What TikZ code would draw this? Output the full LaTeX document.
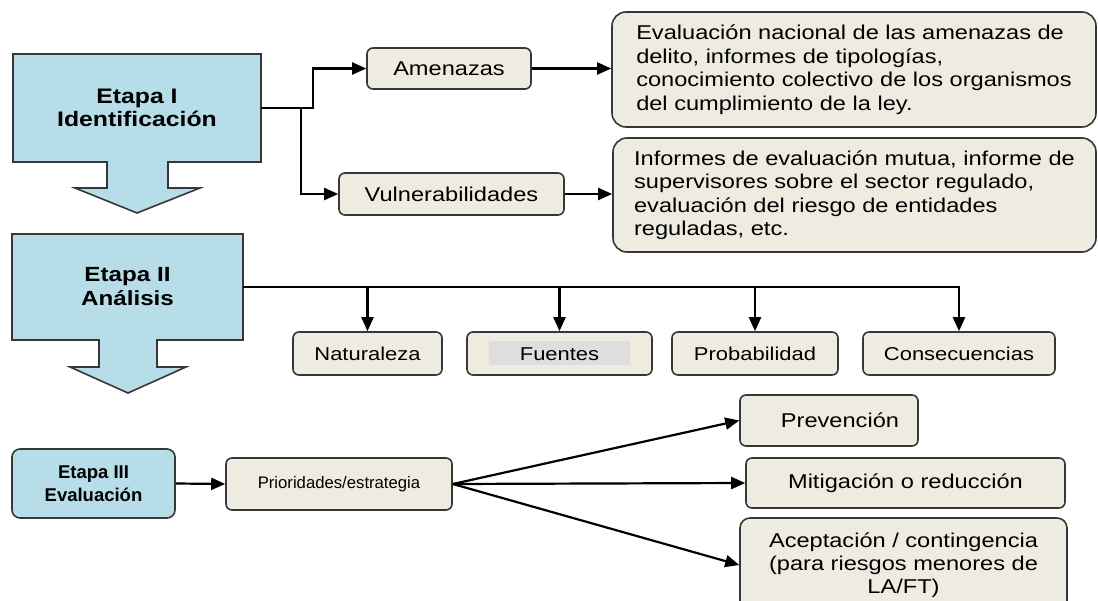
\documentclass[tikz,border=0pt]{standalone}
\usepackage{fontspec}
\setmainfont{Liberation Sans}[FakeStretch=1.18]
\newfontfamily\plainsans{Liberation Sans}
\usetikzlibrary{arrows.meta}

\definecolor{stageblue}{RGB}{183,221,232}
\definecolor{boxtan}{RGB}{238,236,225}
\definecolor{edgegray}{RGB}{55,55,55}
\definecolor{hlgray}{RGB}{222,222,222}

\tikzset{
  stage/.style={fill=stageblue, draw=edgegray, line width=1.6pt},
  stagetext/.style={align=center, inner sep=0pt, font=\fontsize{21}{23}\selectfont\bfseries},
  smallbox/.style={draw=edgegray, fill=boxtan, line width=1.6pt, rounded corners=6pt, inner sep=0pt, font=\fontsize{20}{23}\selectfont},
  bigbox/.style={smallbox, rounded corners=14pt, align=left, font=\fontsize{20}{23.5}\selectfont},
  rowbox/.style={smallbox, minimum height=43pt, font=\fontsize{18.6}{22}\selectfont},
  link/.style={line width=2.2pt},
  conn/.style={link, -{Triangle[length=14pt,width=12pt]}},
}

\begin{document}
\begin{tikzpicture}[x=1pt, y=-1pt]

\clip (0,0) rectangle (1098,601);

\draw[stage] (13,54) -- (261,54) -- (261,162) -- (168,162) -- (168,188) -- (200,188) -- (137,213)
  -- (75,188) -- (107,188) -- (107,162) -- (13,162) -- cycle;
\draw[stage] (12,234) -- (243,234) -- (243,340) -- (157,340) -- (157,367) -- (186,367) -- (128,393)
  -- (70,367) -- (99,367) -- (99,340) -- (12,340) -- cycle;

\coordinate (etapa-i-label) at (137,108);
\coordinate (etapa-ii-label) at (127.5,287);
\coordinate (etapa-iii-label) at (93.5,483.5);

\node[stagetext, minimum width=248pt, minimum height=108pt] (etapaI) at (etapa-i-label) {Etapa I\\Identificación};
\node[stagetext, minimum width=231pt, minimum height=106pt, font=\fontsize{20.5}{24}\selectfont\bfseries] (etapaII) at (etapa-ii-label) {Etapa II\\Análisis};
\node[stage, stagetext, rounded corners=8pt, minimum width=163pt, minimum height=69pt, font=\plainsans\fontsize{18.5}{23}\selectfont\bfseries] (etapaIII) at (etapa-iii-label) {Etapa III\\Evaluación};

\node[smallbox, minimum width=164pt, minimum height=41pt] (amenazas) at (449,68.5) {Amenazas};
\node[smallbox, minimum width=225pt, minimum height=42pt] (vulner) at (451.5,194) {Vulnerabilidades};

\node[bigbox, minimum width=484pt, minimum height=115pt] (amenazasinfo) at (854,69.5)
  {Evaluación nacional de las amenazas de\\delito, informes de tipologías,\\conocimiento colectivo de los organismos\\del cumplimiento de la ley.};
\node[bigbox, minimum width=483pt, minimum height=114pt] (vulnerinfo) at (854.5,195)
  {Informes de evaluación mutua, informe de\\supervisores sobre el sector regulado,\\evaluación del riesgo de entidades\\reguladas, etc.};

\node[rowbox, minimum width=149pt] (natur) at (367.5,353.5) {Naturaleza};
\node[rowbox, minimum width=185pt] (fuentes) at (559.5,353.5)
  {{\fboxsep=0pt\colorbox{hlgray}{\makebox[141pt]{\rule[-5pt]{0pt}{24pt}Fuentes}}}};
\node[rowbox, minimum width=166pt] (probab) at (755,353.5) {Probabilidad};
\node[rowbox, minimum width=192pt] (consec) at (959,353.5) {Consecuencias};

\node[smallbox, minimum width=226pt, minimum height=52pt, font=\plainsans\fontsize{16.7}{20}\selectfont] (prior) at (339,484) {Prioridades/estrategia};
\node[smallbox, minimum width=178pt, minimum height=51pt] (prev) at (829,420.5) {\hspace*{22pt}Prevención};
\node[smallbox, minimum width=319pt, minimum height=50pt] (mitig) at (905.5,483) {Mitigación o reducción};
\node[smallbox, align=center, rounded corners=10pt, minimum width=327pt, minimum height=94pt] (acept) at (903.5,565)
  {Aceptación / contingencia\\(para riesgos menores de\\LA/FT)};

\draw[conn] (etapaI.east) -- ++(52,0) |- (amenazas.west);
\draw[conn] ([xshift=40pt]etapaI.east) |- (vulner.west);
\draw[conn] (amenazas.east) -- (amenazas.east -| amenazasinfo.west);
\draw[conn] (vulner.east) -- (vulner.east -| vulnerinfo.west);

\draw[conn] (etapaII.east) -| (consec.north);
\foreach \n in {natur, fuentes, probab}
  \draw[conn] (etapaII.east -| \n.north) -- (\n.north);

\draw[conn] (etapaIII.east) -- (prior.west);
\foreach \n in {prev, mitig, acept}
  \draw[conn] (prior.east) -- (\n.west);

\end{tikzpicture}
\end{document}
